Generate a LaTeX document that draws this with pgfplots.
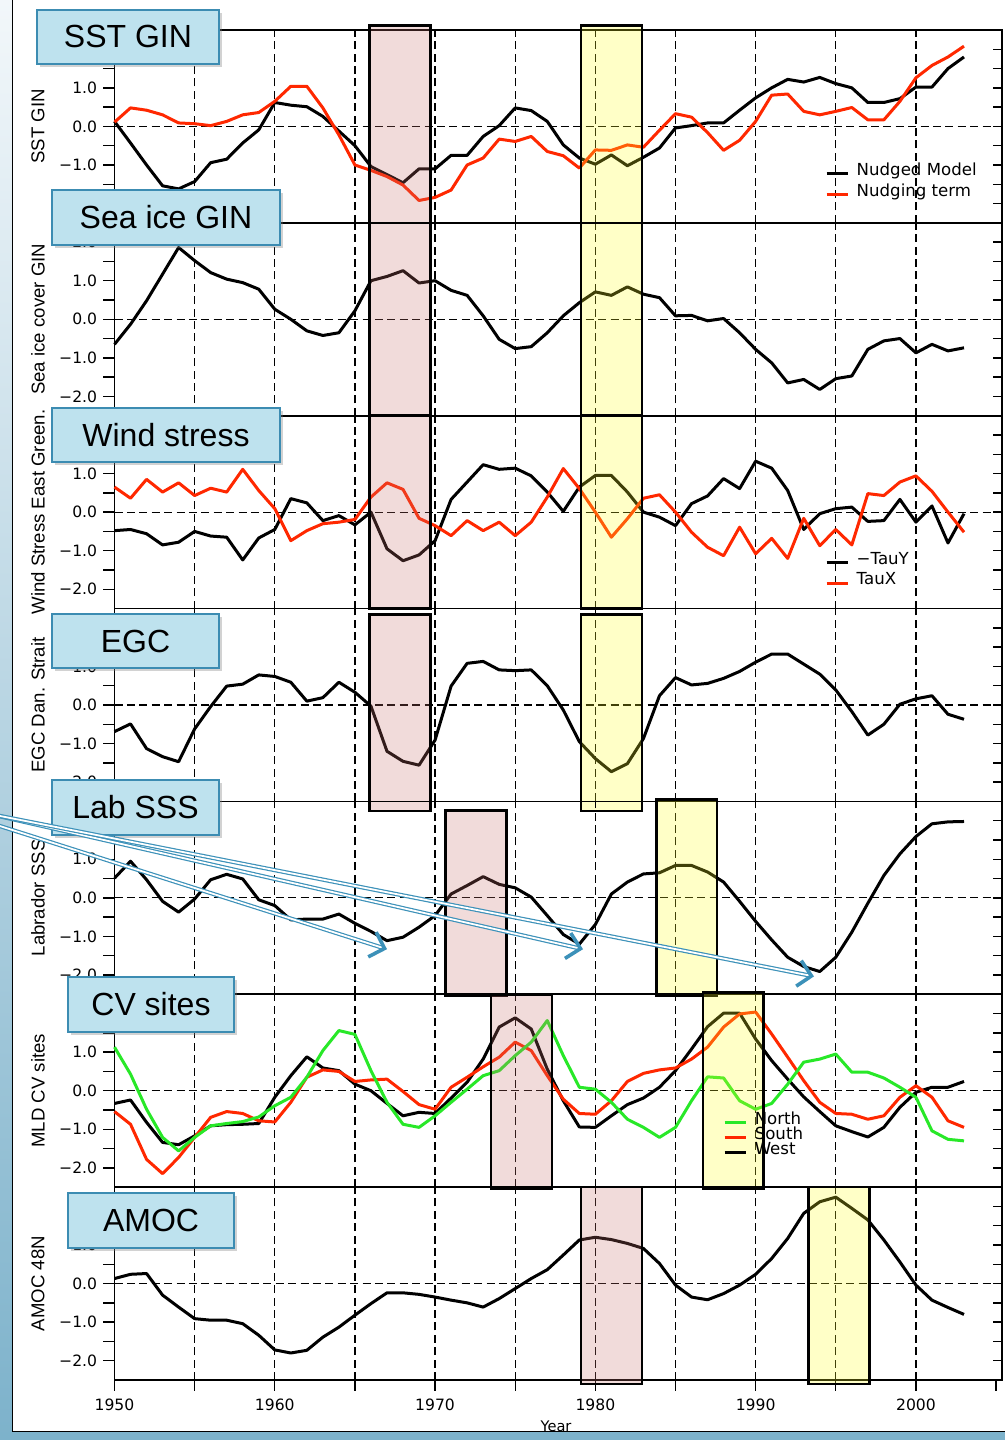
\documentclass[border=0pt]{standalone}
\usepackage{fontspec}
\usepackage{pgfplots}
\pgfplotsset{compat=1.18}
\usepackage{pgfplotstable}
\usetikzlibrary{shadows,arrows.meta}
\newfontfamily\djv{DejaVu Sans}
\newfontfamily\lib{Liberation Sans}
\definecolor{myred}{RGB}{255,40,0}
\definecolor{mygreen}{RGB}{40,232,40}
\definecolor{pinkf}{RGB}{203,115,111}
\definecolor{yellf}{RGB}{255,255,35}
\definecolor{boxfill}{RGB}{190,226,238}
\definecolor{boxdraw}{RGB}{60,140,178}
\definecolor{arrowblue}{RGB}{60,145,185}
\definecolor{stripA}{RGB}{242,247,250}
\definecolor{stripB}{RGB}{222,236,243}
\definecolor{stripC}{RGB}{125,178,203}

\pgfplotstableread{
yr sst nud
1950 0.13 0.11
1951 -0.43 0.48
1952 -1.00 0.42
1953 -1.54 0.30
1954 -1.62 0.09
1955 -1.43 0.07
1956 -0.94 0.02
1957 -0.85 0.13
1958 -0.43 0.30
1959 -0.09 0.36
1960 0.62 0.65
1961 0.55 1.04
1962 0.51 1.04
1963 0.26 0.48
1964 -0.12 -0.22
1965 -0.50 -1.00
1966 -1.04 -1.14
1967 -1.25 -1.30
1968 -1.46 -1.52
1969 -1.10 -1.92
1970 -1.10 -1.84
1971 -0.75 -1.65
1972 -0.75 -1.00
1973 -0.26 -0.82
1974 0.02 -0.33
1975 0.48 -0.39
1976 0.41 -0.26
1977 0.13 -0.65
1978 -0.48 -0.76
1979 -0.82 -1.08
1980 -0.98 -0.61
1981 -0.74 -0.62
1982 -1.02 -0.48
1983 -0.80 -0.54
1984 -0.56 -0.10
1985 -0.04 0.33
1986 0.02 0.24
1987 0.09 -0.16
1988 0.09 -0.62
1989 0.42 -0.36
1990 0.74 0.13
1991 1.00 0.81
1992 1.22 0.84
1993 1.15 0.39
1994 1.27 0.30
1995 1.11 0.39
1996 1.00 0.49
1997 0.62 0.17
1998 0.62 0.17
1999 0.72 0.65
2000 1.02 1.26
2001 1.02 1.58
2002 1.50 1.80
2003 1.80 2.08
}\tsst

\pgfplotstableread{
yr ice
1950 -0.65
1951 -0.13
1952 0.48
1953 1.17
1954 1.86
1955 1.52
1956 1.21
1957 1.04
1958 0.95
1959 0.78
1960 0.26
1961 0.00
1962 -0.30
1963 -0.42
1964 -0.35
1965 0.22
1966 1.00
1967 1.11
1968 1.26
1969 0.94
1970 1.00
1971 0.75
1972 0.62
1973 0.09
1974 -0.52
1975 -0.76
1976 -0.71
1977 -0.35
1978 0.09
1979 0.43
1980 0.71
1981 0.62
1982 0.84
1983 0.65
1984 0.56
1985 0.09
1986 0.10
1987 -0.04
1988 0.02
1989 -0.35
1990 -0.78
1991 -1.13
1992 -1.65
1993 -1.56
1994 -1.82
1995 -1.54
1996 -1.47
1997 -0.78
1998 -0.56
1999 -0.50
2000 -0.87
2001 -0.65
2002 -0.82
2003 -0.74
}\tice

\pgfplotstableread{
yr tauy taux
1950 -0.48 0.65
1951 -0.45 0.36
1952 -0.56 0.85
1953 -0.85 0.52
1954 -0.78 0.76
1955 -0.50 0.43
1956 -0.62 0.62
1957 -0.65 0.52
1958 -1.24 1.11
1959 -0.67 0.56
1960 -0.45 0.09
1961 0.35 -0.74
1962 0.24 -0.48
1963 -0.22 -0.30
1964 -0.09 -0.26
1965 -0.33 -0.19
1966 0.00 0.39
1967 -0.95 0.76
1968 -1.26 0.59
1969 -1.11 -0.16
1970 -0.74 -0.35
1971 0.33 -0.61
1972 0.78 -0.22
1973 1.23 -0.48
1974 1.11 -0.26
1975 1.14 -0.61
1976 0.94 -0.26
1977 0.52 0.39
1978 0.02 1.13
1979 0.65 0.61
1980 0.95 0.00
1981 0.95 -0.65
1982 0.52 -0.17
1983 0.00 0.36
1984 -0.13 0.45
1985 -0.35 0.00
1986 0.22 -0.52
1987 0.42 -0.91
1988 0.87 -1.13
1989 0.61 -0.39
1990 1.32 -1.08
1991 1.14 -0.68
1992 0.56 -1.20
1993 -0.45 -0.16
1994 -0.04 -0.87
1995 0.09 -0.45
1996 0.13 -0.85
1997 -0.24 0.48
1998 -0.22 0.43
1999 0.33 0.78
2000 -0.26 0.94
2001 0.16 0.54
2002 -0.80 0.00
2003 -0.04 -0.52
}\twind

\pgfplotstableread{
yr egc
1950 -0.69
1951 -0.49
1952 -1.13
1953 -1.34
1954 -1.47
1955 -0.62
1956 -0.04
1957 0.49
1958 0.54
1959 0.78
1960 0.74
1961 0.59
1962 0.10
1963 0.19
1964 0.59
1965 0.33
1966 -0.03
1967 -1.20
1968 -1.46
1969 -1.56
1970 -0.91
1971 0.49
1972 1.08
1973 1.13
1974 0.91
1975 0.89
1976 0.91
1977 0.50
1978 -0.13
1979 -0.95
1980 -1.39
1981 -1.73
1982 -1.52
1983 -0.87
1984 0.24
1985 0.71
1986 0.52
1987 0.56
1988 0.69
1989 0.87
1990 1.11
1991 1.32
1992 1.32
1993 1.06
1994 0.80
1995 0.39
1996 -0.17
1997 -0.78
1998 -0.50
1999 0.02
2000 0.16
2001 0.24
2002 -0.24
2003 -0.37
}\tegc

\pgfplotstableread{
yr sss
1950 0.51
1951 0.95
1952 0.47
1953 -0.09
1954 -0.37
1955 -0.03
1956 0.47
1957 0.61
1958 0.49
1959 -0.05
1960 -0.20
1961 -0.57
1962 -0.55
1963 -0.55
1964 -0.42
1965 -0.66
1966 -0.87
1967 -1.11
1968 -1.02
1969 -0.76
1970 -0.46
1971 0.10
1972 0.32
1973 0.55
1974 0.35
1975 0.26
1976 0.02
1977 -0.46
1978 -0.95
1979 -1.20
1980 -0.69
1981 0.10
1982 0.41
1983 0.62
1984 0.65
1985 0.84
1986 0.84
1987 0.67
1988 0.41
1989 -0.09
1990 -0.61
1991 -1.09
1992 -1.54
1993 -1.78
1994 -1.91
1995 -1.54
1996 -0.89
1997 -0.14
1998 0.58
1999 1.14
2000 1.59
2001 1.92
2002 1.97
2003 1.98
}\tsss

\pgfplotstableread{
yr north south west
1950 1.13 -0.54 -0.33
1951 0.43 -0.87 -0.24
1952 -0.48 -1.78 -0.82
1953 -1.21 -2.15 -1.34
1954 -1.56 -1.73 -1.40
1955 -1.21 -1.21 -1.17
1956 -0.91 -0.69 -0.91
1957 -0.85 -0.54 -0.88
1958 -0.80 -0.59 -0.87
1959 -0.68 -0.78 -0.85
1960 -0.39 -0.81 -0.17
1961 -0.17 -0.30 0.39
1962 0.35 0.35 0.88
1963 1.04 0.54 0.59
1964 1.56 0.50 0.52
1965 1.46 0.24 0.17
1966 0.52 0.28 0.00
1967 -0.30 0.30 -0.33
1968 -0.87 -0.02 -0.65
1969 -0.95 -0.36 -0.56
1970 -0.65 -0.48 -0.59
1971 -0.30 0.09 -0.19
1972 0.04 0.35 0.22
1973 0.39 0.62 0.82
1974 0.52 0.87 1.65
1975 0.91 1.26 1.89
1976 1.26 1.04 1.60
1977 1.82 0.39 0.56
1978 0.91 -0.22 -0.26
1979 0.09 -0.59 -0.94
1980 0.04 -0.61 -0.95
1981 -0.30 -0.26 -0.65
1982 -0.74 0.24 -0.36
1983 -0.95 0.45 -0.19
1984 -1.21 0.54 0.09
1985 -0.95 0.59 0.52
1986 -0.26 0.82 1.08
1987 0.36 1.13 1.66
1988 0.33 1.65 2.01
1989 -0.26 1.99 2.01
1990 -0.48 2.04 1.34
1991 -0.33 1.47 0.78
1992 0.17 0.87 0.30
1993 0.74 0.26 -0.16
1994 0.82 -0.30 -0.54
1995 0.95 -0.59 -0.91
1996 0.48 -0.61 -1.06
1997 0.48 -0.74 -1.20
1998 0.33 -0.65 -0.95
1999 0.09 -0.17 -0.43
2000 -0.17 0.13 -0.04
2001 -1.04 -0.17 0.09
2002 -1.26 -0.78 0.09
2003 -1.30 -0.95 0.24
}\tmld

\pgfplotstableread{
yr amoc
1950 0.13
1951 0.24
1952 0.26
1953 -0.30
1954 -0.61
1955 -0.91
1956 -0.95
1957 -0.95
1958 -1.04
1959 -1.34
1960 -1.72
1961 -1.80
1962 -1.73
1963 -1.39
1964 -1.13
1965 -0.82
1966 -0.52
1967 -0.24
1968 -0.24
1969 -0.28
1970 -0.35
1971 -0.43
1972 -0.50
1973 -0.61
1974 -0.39
1975 -0.13
1976 0.13
1977 0.36
1978 0.74
1979 1.13
1980 1.20
1981 1.14
1982 1.04
1983 0.91
1984 0.52
1985 -0.04
1986 -0.35
1987 -0.42
1988 -0.26
1989 -0.04
1990 0.24
1991 0.65
1992 1.17
1993 1.82
1994 2.12
1995 2.24
1996 1.95
1997 1.65
1998 1.13
1999 0.56
2000 -0.04
2001 -0.43
2002 -0.62
2003 -0.80
}\tamoc

\pgfplotsset{
  panel/.style={
    scale only axis, width=443.75bp, height=96.43bp,
    xmin=1950, xmax=2005.37, ymin=-2.5, ymax=2.5,
    clip=false, anchor=south west,
    axis line style={line width=0.9bp},
    ytick={-2,-1,0,1,2}, minor ytick={-1.5,-0.5,0.5,1.5},
    yticklabels={−2.0,−1.0,0.0,1.0,2.0},
    ytick pos=left, tick align=outside,
    major tick length=5.5bp, minor tick length=5.5bp,
    every tick/.style={black, line width=0.7bp},
    yticklabel style={font=\djv\fontsize{7.8bp}{9bp}\selectfont, anchor=east, inner sep=0pt, xshift=-3bp},
    xtick=\empty,
    legend image code/.code={\draw[##1, line width=1.5bp] (0bp,-1.5bp) -- (10.5bp,-1.5bp);},
    legend style={draw=none, fill=none, inner sep=0pt, row sep=0.5bp, column sep=0bp,
      font=\djv\fontsize{8.3bp}{9bp}\selectfont, nodes={inner sep=1.2bp}, legend cell align=left,
      /tikz/every odd column/.append style={column sep=2.6bp}},
  },
  dat/.style={line width=1.5bp, line join=round},
}
\tikzset{
  gridd/.style={black, line width=0.6bp, dash pattern=on 4bp off 2.2bp},
  boxp/.style={fill=pinkf, fill opacity=0.25, draw=black, line width=1.25bp},
  boxy/.style={fill=yellf, fill opacity=0.25, draw=black, line width=1.25bp},
  titlebox/.style={fill=boxfill, draw=boxdraw, line width=1.3bp, inner sep=0pt,
    font=\lib\fontsize{16bp}{19bp}\selectfont,
    drop shadow={shadow xshift=1.5bp, shadow yshift=-1.5bp, opacity=0.35}},
  ylab/.style={rotate=90, font=\lib\fontsize{9.3bp}{11bp}\selectfont, inner sep=0pt},
  arr/.style={arrowblue, line width=0.6bp, double=white, double distance=0.9bp,
    -{Straight Barb[length=6.5bp, width=13bp, line width=1.8bp]}},
}
\newcommand{\decor}{%
  \pgfplotsinvokeforeach{1955,1960,...,2000}{\draw[gridd] (axis cs:##1,-2.5) -- (axis cs:##1,2.5);}
  \draw[gridd] (axis cs:1950,0) -- (axis cs:2005.37,0);
}
\newcommand{\rticks}{%
  \pgfplotsinvokeforeach{-2,-1.5,...,2}{\draw[black, line width=0.7bp] (axis cs:2005.37,##1) -- ++(-4.5bp,0bp);}
}

\begin{document}
\begin{tikzpicture}
\useasboundingbox (0,0) rectangle (502.5bp,720bp);
\fill[white] (0,0) rectangle (502.5bp,720bp);
\shade[top color=stripA, middle color=stripB, bottom color=stripC] (0,0) rectangle (6bp,720bp);
\fill[stripC] (0,0) rectangle (502.5bp,4bp);
\draw[black, line width=0.5bp] (6bp,720bp) -- (6bp,4bp) -- (502.5bp,4bp);

% Panel 1
\begin{axis}[panel, at={(57.25bp,608.57bp)},
  legend style={at={(axis cs:1994.31,-0.87)}, anchor=north west}]
\decor
\addplot[dat, black] table[x=yr, y=sst] {\tsst};
\addlegendentry{Nudged Model}
\addplot[dat, myred] table[x=yr, y=nud] {\tsst};
\addlegendentry{Nudging term}
\draw[boxp] (axis cs:1965.9,-2.5) rectangle (axis cs:1969.7,2.62);
\draw[boxy] (axis cs:1979.1,-2.5) rectangle (axis cs:1982.9,2.62);
\rticks
\end{axis}

% Panel 2
\begin{axis}[panel, at={(57.25bp,512.14bp)}]
\decor
\addplot[dat, black] table[x=yr, y=ice] {\tice};
\draw[boxp] (axis cs:1965.9,-2.5) rectangle (axis cs:1969.7,2.5);
\draw[boxy] (axis cs:1979.1,-2.5) rectangle (axis cs:1982.9,2.5);
\rticks
\end{axis}

% Panel 3
\begin{axis}[panel, at={(57.25bp,415.71bp)},
  legend style={at={(axis cs:1994.31,-0.96)}, anchor=north west}]
\decor
\addplot[dat, black] table[x=yr, y=tauy] {\twind};
\addlegendentry{−TauY}
\addplot[dat, myred] table[x=yr, y=taux] {\twind};
\addlegendentry{TauX}
\draw[boxp] (axis cs:1965.9,-2.5) rectangle (axis cs:1969.7,2.5);
\draw[boxy] (axis cs:1979.1,-2.5) rectangle (axis cs:1982.9,2.5);
\rticks
\end{axis}

% Panel 4
\begin{axis}[panel, at={(57.25bp,319.28bp)}]
\decor
\addplot[dat, black] table[x=yr, y=egc] {\tegc};
\draw[boxp] (axis cs:1965.9,-2.75) rectangle (axis cs:1969.7,2.35);
\draw[boxy] (axis cs:1979.1,-2.75) rectangle (axis cs:1982.9,2.35);
\rticks
\end{axis}

% Panel 5
\begin{axis}[panel, at={(57.25bp,222.85bp)}]
\decor
\addplot[dat, black] table[x=yr, y=sss] {\tsss};
\draw[boxp] (axis cs:1970.65,-2.55) rectangle (axis cs:1974.45,2.26);
\draw[boxy] (axis cs:1983.8,-2.55) rectangle (axis cs:1987.6,2.55);
\rticks
\end{axis}

% Panel 6
\begin{axis}[panel, at={(57.25bp,126.42bp)}, reverse legend,
  legend style={at={(axis cs:1987.95,-0.47)}, anchor=north west, row sep=-2.6bp}]
\decor
\addplot[dat, black] table[x=yr, y=west] {\tmld};
\addlegendentry{West}
\addplot[dat, myred] table[x=yr, y=south] {\tmld};
\addlegendentry{South}
\addplot[dat, mygreen] table[x=yr, y=north] {\tmld};
\addlegendentry{North}
\draw[boxp] (axis cs:1973.5,-2.55) rectangle (axis cs:1977.3,2.5);
\draw[boxy] (axis cs:1986.7,-2.55) rectangle (axis cs:1990.5,2.55);
\rticks
\end{axis}

% Panel 7
\begin{axis}[panel, at={(57.25bp,30bp)},
  xtick={1950,1960,...,2000}, minor xtick={1955,1965,...,2005},
  xticklabels={1950,1960,1970,1980,1990,2000}, xtick pos=bottom,
  xticklabel style={font=\djv\fontsize{7.8bp}{9bp}\selectfont, inner sep=0pt, yshift=-4bp}]
\decor
\addplot[dat, black] table[x=yr, y=amoc] {\tamoc};
\draw[boxp] (axis cs:1979.1,-2.6) rectangle (axis cs:1982.9,2.5);
\draw[boxy] (axis cs:1993.3,-2.6) rectangle (axis cs:1997.1,2.5);
\rticks
\end{axis}

% y labels
\node[ylab] at (19bp,656.8bp) {SST GIN};
\node[ylab] at (19bp,560.35bp) {Sea ice cover GIN};
\node[ylab] at (19bp,463.95bp) {Wind Stress East Green.};
\node[ylab] at (19bp,367.5bp) {EGC Dan. Strait};
\node[ylab] at (19bp,271.05bp) {Labrador SSS};
\node[ylab] at (19bp,174.65bp) {MLD CV sites};
\node[ylab] at (19bp,78.2bp) {AMOC 48N};
\node[font=\djv\fontsize{7.3bp}{9bp}\selectfont, inner sep=0pt] at (278bp,6.8bp) {Year};

% title boxes
\node[titlebox, minimum width=91bp, minimum height=27bp] at (64bp,701.5bp) {SST GIN};
\node[titlebox, minimum width=114bp, minimum height=27.5bp] at (83bp,611.25bp) {Sea ice GIN};
\node[titlebox, minimum width=114bp, minimum height=27bp] at (83bp,502.5bp) {Wind stress};
\node[titlebox, minimum width=83.5bp, minimum height=27bp] at (67.75bp,399.5bp) {EGC};
\node[titlebox, minimum width=83.5bp, minimum height=27.5bp] at (67.75bp,316.25bp) {Lab SSS};
\node[titlebox, minimum width=83bp, minimum height=27.5bp] at (75.5bp,217.75bp) {CV sites};
\node[titlebox, minimum width=83bp, minimum height=27.5bp] at (75.5bp,109.75bp) {AMOC};

% arrows
\draw[arr] (-2bp,307.6bp) -- (193.5bp,245.4bp);
\draw[arr] (-2bp,312.3bp) -- (291.5bp,245.4bp);
\draw[arr] (-2bp,312.4bp) -- (407bp,231.8bp);
\end{tikzpicture}
\end{document}
